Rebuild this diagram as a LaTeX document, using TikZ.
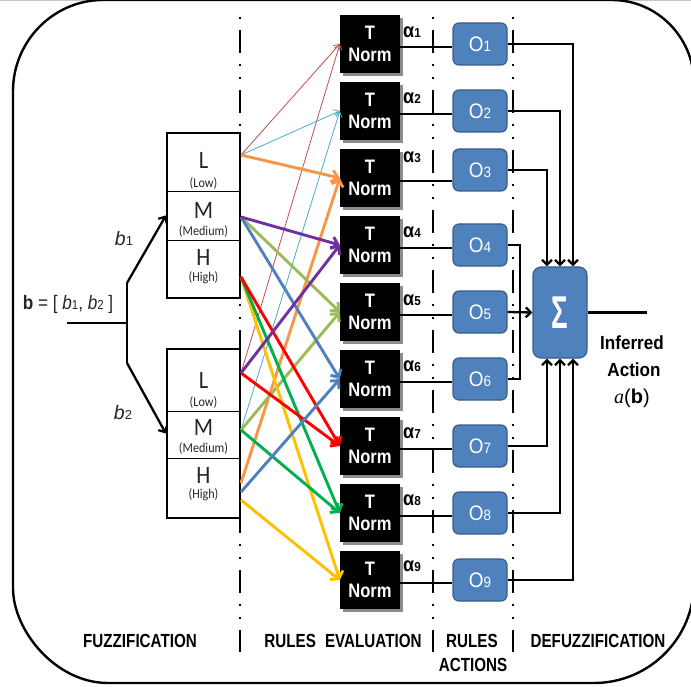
\documentclass[tikz,border=0pt]{standalone}
\usepackage{fontspec}
\usepackage{graphicx}
\setmainfont{Liberation Sans}
\newfontfamily\carl{Carlito}
\newfontfamily\lserif{Liberation Serif}
\usetikzlibrary{arrows.meta}
\newcommand\fsz[2]{\fontsize{#1}{#2}\selectfont}
\newcommand\sqz[2]{\scalebox{#1}[1]{#2}}
\definecolor{cbrown}{HTML}{C0504D}
\definecolor{ccyan}{HTML}{4BACC6}
\definecolor{corange}{HTML}{F79646}
\definecolor{cpurple}{HTML}{7030A0}
\definecolor{clgreen}{HTML}{9BBB59}
\definecolor{cblue}{HTML}{4F81BD}
\definecolor{cred}{HTML}{FF0000}
\definecolor{cgreen}{HTML}{00B050}
\definecolor{cyellow}{HTML}{FFC000}
\definecolor{oblue}{HTML}{4F81BD}
\definecolor{oborder}{HTML}{385D8A}
\definecolor{txt}{HTML}{262626}
\begin{document}
\begin{tikzpicture}[x=1pt,y=-1pt,
  tnorm/.style={fill=black, minimum width=60pt, minimum height=58pt, inner sep=0pt, text=white, align=center, font=\fsz{19.5}{22}\bfseries},
  obox/.style={fill=oblue, draw=oborder, line width=1.2pt, rounded corners=6pt, minimum width=54pt, minimum height=42pt, inner sep=0pt, text=white, font=\fsz{21}{21}},
  mfbox/.style={draw, line width=2.2pt, fill=white, minimum width=73pt, inner sep=0pt},
  bigl/.style={font=\carl\fsz{25}{25}, text=txt, inner sep=0pt},
  smalll/.style={font=\carl\fsz{13.5}{14}, text=txt, inner sep=0pt},
  alab/.style={font=\fsz{20}{20}\bfseries, text=black, inner sep=0pt},
  bot/.style={font=\fsz{19}{19}\bfseries, text=black, inner sep=0pt},
  bk/.style={line width=2.3pt, draw=black},
  bkarr/.style={line width=2.3pt, draw=black, -{Straight Barb[length=5pt,width=10pt]}},
  thickarr/.style={line width=2.9pt, -{Straight Barb[length=6pt,width=12pt]}},
  thinarr/.style={line width=0.8pt, -{Straight Barb[length=5pt,width=8pt]}},
  divider/.style={line width=2.3pt, dash pattern=on 23pt off 11pt on 2pt off 11pt on 2pt off 11pt, dash phase=47pt}
]
\useasboundingbox (0,0) rectangle (691,687);
\fill[white] (0,0) rectangle (691,687);
% outer frame
\begin{scope}
\clip (0,0) rectangle (691,687);
\draw[gray!45, line width=1pt] (0,0.5) -- (691,0.5);
\draw[line width=2.4pt] (13,340) -- (13,91) .. controls (13,41.3) and (53.3,0) .. (103,0)
  -- (612,0) .. controls (657.3,0) and (694,37.7) .. (694,83)
  -- (694,583) .. controls (694,638.2) and (649.2,683) .. (594,683)
  -- (108,683) .. controls (55.5,683) and (13,630.5) .. (13,588) -- cycle;
\end{scope}
% dividers
\draw[divider] (240,17) -- (240,652);
\draw[divider] (433,17) -- (433,652);
\draw[divider] (513,17) -- (513,652);
% membership boxes
\node[mfbox, minimum height=165pt] (MF1) at (203.5,215.5) {};
\draw[line width=1pt] (167,192) -- (240,192);
\draw[line width=1pt] (167,241) -- (240,241);
\node[mfbox, minimum height=169pt] (MF2) at (203.5,433.5) {};
\draw[line width=1pt] (167,411) -- (240,411);
\draw[line width=1pt] (167,458) -- (240,458);
\node[bigl] (l1) at (203.5,160) {\sqz{0.9}{L}};
\node[smalll] (l1s) at (203.5,184) {\sqz{0.9}{(Low)}};
\node[bigl] (m1) at (203.5,210) {\sqz{0.9}{M}};
\node[smalll] (m1s) at (203.5,231) {\sqz{0.9}{(Medium)}};
\node[bigl] (h1) at (203.5,257) {\sqz{0.9}{H}};
\node[smalll] (h1s) at (203.5,278) {\sqz{0.9}{(High)}};
\node[bigl] (l2) at (203.5,380) {\sqz{0.9}{L}};
\node[smalll] (l2s) at (203.5,402) {\sqz{0.9}{(Low)}};
\node[bigl] (m2) at (203.5,427) {\sqz{0.9}{M}};
\node[smalll] (m2s) at (203.5,448) {\sqz{0.9}{(Medium)}};
\node[bigl] (h2) at (203.5,475) {\sqz{0.9}{H}};
\node[smalll] (h2s) at (203.5,495) {\sqz{0.9}{(High)}};
% input
\node[inner sep=0pt, text=txt] (inlab) at (68,304) {\sqz{0.88}{\fsz{19.5}{19.5}\textbf{b} = [ \textit{b}{\fsz{13}{13}1}, \textit{b}{\fsz{13}{13}2} ]}};
\coordinate (in) at (67,323);
\coordinate (jn) at (127,323);
\coordinate (ju) at (127,283);
\coordinate (jd) at (127,363);
\draw[bk] (in) -- (jn);
\draw[bk] (ju) -- (jd);
\draw[bkarr] (ju) -- (MF1.west);
\draw[bkarr] (jd) -- (MF2.west);
\node[inner sep=0pt, text=txt] (b1lab) at (124,239) {\fsz{19.5}{19.5}\textit{b}{\fsz{13}{13}1}};
\node[inner sep=0pt, text=txt] (b2lab) at (123,413) {\fsz{19.5}{19.5}\textit{b}{\fsz{13}{13}2}};
% T-norm boxes
\foreach \i in {1,...,9}{
  \pgfmathsetmacro\yy{44+67*(\i-1)}
  \fill[black!45] (343,\yy-26) rectangle (403,\yy+32);
  \node[tnorm] (T\i) at (370,\yy) {\sqz{0.85}{T}\\\sqz{0.85}{Norm}};
}
% source points
\coordinate (b1L) at (241,155);
\coordinate (b1M) at (241,217);
\coordinate (b1H) at (241,277);
\coordinate (b2L) at (241,373);
\coordinate (b2M) at (241,430);
\coordinate (b2Ho) at (241,483);
\coordinate (b2Hb) at (241,492);
\coordinate (b2Hy) at (241,500);
% rule arrows
\draw[thinarr, cbrown] (b1L) -- (T1.west);
\draw[thinarr, cbrown] (b2L) -- (T1.west);
\draw[thinarr, ccyan] (b1L) -- (T2.west);
\draw[thinarr, ccyan] (b2M) -- (T2.west);
\draw[thickarr, corange] (b1L) -- (T3.west);
\draw[thickarr, corange] (b2Ho) -- (T3.west);
\draw[thickarr, clgreen] (b1M) -- (T5.west);
\draw[thickarr, clgreen] (b2M) -- (T5.west);
\draw[thickarr, cyellow] (b1H) -- (T9.west);
\draw[thickarr, cyellow] (b2Hy) -- (T9.west);
\draw[thickarr, cgreen] (b1H) -- (T8.west);
\draw[thickarr, cgreen] (b2M) -- (T8.west);
\draw[thickarr, cred] (b1H) -- (T7.west);
\draw[thickarr, cred] (b2L) -- (T7.west);
\draw[thickarr, cblue] (b1M) -- (T6.west);
\draw[thickarr, cblue] (b2Hb) -- (T6.west);
\draw[thickarr, cpurple] (b1M) -- (T4.west);
\draw[thickarr, cpurple] (b2L) -- (T4.west);
% alpha labels
\foreach \i/\ay in {1/32,2/98,3/157,4/232,5/300,6/366,7/433,8/500,9/566}{
  \node[alab] (A\i) at (412,\ay) {\sqz{0.9}{α{\fsz{13}{13}\i}}};
}
% O boxes
\foreach \i/\oy in {1/44,2/111,3/170,4/245,5/312,6/379,7/446,8/513,9/580}{
  \node[obox] (O\i) at (480,\oy) {\sqz{0.9}{O{\fsz{15}{15}\i}}};
}
\foreach \i in {1,...,9}{
  \coordinate (a\i) at ([yshift=-3pt]T\i.east);
  \draw[bk] (a\i) -- (a\i -| O\i.west);
}
% sum
\node[obox, minimum height=91pt, rounded corners=8pt] (S) at (560,312.5) {\sqz{0.6}{\fsz{46}{46}\bfseries Σ}};
\draw[bkarr] (O1.east) -| ([xshift=13pt]S.north);
\draw[bkarr] (O2.east) -| (S.north);
\draw[bkarr] (O3.east) -| ([xshift=-13pt]S.north);
\coordinate (jm) at (520,312.5);
\draw[bk] (O4.east) -| (jm);
\draw[bk] (O6.east) -| (jm);
\draw[bkarr] (O5.east) -- (S.west);
\draw[bkarr] (O7.east) -| ([xshift=-13pt]S.south);
\draw[bkarr] (O8.east) -| (S.south);
\draw[bkarr] (O9.east) -| ([xshift=13pt]S.south);
\coordinate (out) at (647,312.5);
\draw[bk] (S.east) -- (out);
\node[inner sep=0pt, font=\fsz{19}{19}\bfseries] (inf1) at (632,343) {\sqz{0.9}{Inferred}};
\node[inner sep=0pt, font=\fsz{19}{19}\bfseries] (inf2) at (634,370) {\sqz{0.9}{Action}};
\node[inner sep=0pt, font=\fsz{20}{20}] (inf3) at (632,398) {{\lserif\itshape a}(\textbf{b})};
% bottom labels
\node[bot] (lb1) at (140,641) {\sqz{0.8}{FUZZIFICATION}};
\node[bot] (lb2) at (343,641) {\sqz{0.8}{RULES\hspace{0.6em}EVALUATION}};
\node[bot] (lb3) at (472,641) {\sqz{0.8}{RULES}};
\node[bot] (lb4) at (473,665) {\sqz{0.8}{ACTIONS}};
\node[bot] (lb5) at (598,641) {\sqz{0.8}{DEFUZZIFICATION}};
\end{tikzpicture}
\end{document}
